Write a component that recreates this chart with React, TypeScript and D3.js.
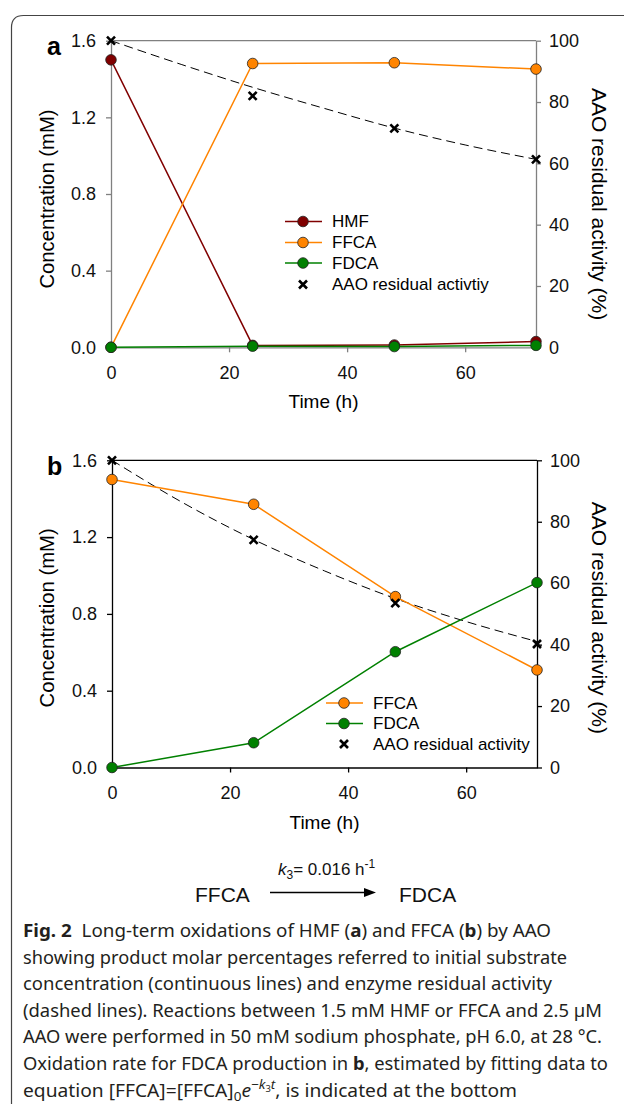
import { useEffect, useRef } from "react";
import * as d3 from "d3";

const times = [0, 24, 48, 72];

// panel a: HMF oxidation
const hmfA = [1.5, 0.01, 0.012, 0.03];
const ffcaA = [0, 1.481, 1.485, 1.452];
const fdcaA = [0, 0.006, 0.004, 0.01];
const aaoA = [100, 82.0, 71.4, 61.3];
const fitTimes = [0, 12, 24, 36, 48, 60, 72];
const fitA = [100, 92.2, 84.8, 78.0, 71.5, 66.0, 61.3];

// panel b: FFCA oxidation
const ffcaB = [1.5, 1.371, 0.89, 0.508];
const fdcaB = [0, 0.129, 0.603, 0.963];
const aaoB = [100, 74.1, 53.5, 40.2];
const fitB = [100, 86.2, 74.2, 64.0, 55.0, 47.5, 41.0];

const xTicks = [0, 20, 40, 60];
const concTicks = [0, 0.4, 0.8, 1.2, 1.6];
const actTicks = [0, 20, 40, 60, 80, 100];

const legendA = ["HMF", "FFCA", "FDCA", "AAO residual activtiy"];
const legendB = ["FFCA", "FDCA", "AAO residual activity"];

const HMF = "#800000";
const ORANGE = "#ff8400";
const GREEN = "#008000";
const FONT = "'Liberation Sans', Arial, sans-serif";

const captionLines = [
  [["Fig. 2", true], ["  Long-term oxidations of HMF (", false], ["a", true], [") and FFCA (", false], ["b", true], [") by AAO", false]],
  [["showing product molar percentages referred to initial substrate", false]],
  [["concentration (continuous lines) and enzyme residual activity", false]],
  [["(dashed lines). Reactions between 1.5 mM HMF or FFCA and 2.5 \u00b5M", false]],
  [["AAO were performed in 50 mM sodium phosphate, pH 6.0, at 28 \u00b0C.", false]],
  [["Oxidation rate for FDCA production in ", false], ["b", true], [", estimated by fitting data to", false]],
];
const captionEnds = [551, 567, 552, 602, 602, 608, 517];

type S = { name: string; color: string; values: number[] };

const cross = "M-4,-4L4,4M-4,4L4,-4";

function Panel(props: {
  x0: number; x1: number; top: number; bottom: number; letter: string;
  series: S[]; aao: number[]; fit: number[]; axisColor: string;
  legend: string[]; legX: number; legY: number[]; leftShift: number; rightShift: number;
}) {
  const { x0, x1, top, bottom, letter, series, aao, fit, axisColor, legend, legX, legY, leftShift, rightShift } = props;
  const gx = useRef<SVGGElement>(null);
  const gy = useRef<SVGGElement>(null);
  const gy2 = useRef<SVGGElement>(null);

  const x = d3.scaleLinear().domain([0, 72]).range([x0, x1]);
  const y = d3.scaleLinear().domain([0, 1.6]).range([bottom, top]);
  const y2 = d3.scaleLinear().domain([0, 100]).range([bottom, top]);

  const line = d3.line<number>().x((d, i) => x(times[i])).y((d) => y(d));
  const fitLine = d3.line<number>().x((d, i) => x(fitTimes[i])).y((d) => y2(d)).curve(d3.curveMonotoneX);

  useEffect(() => {
    const style = (g: any) => {
      g.attr("font-family", FONT).attr("font-size", 18);
      g.selectAll("path, line").attr("stroke", axisColor).attr("stroke-width", 1.3);
      g.selectAll("text").attr("fill", "#111");
    };
    d3.select(gx.current).call(d3.axisBottom(x).tickValues(xTicks).tickSize(5).tickPadding(14).tickSizeOuter(0) as any).call(style);
    d3.select(gy.current).call(d3.axisLeft(y).tickValues(concTicks).tickFormat(d3.format(".1f") as any).tickSize(5).tickPadding(10).tickSizeOuter(0) as any).call(style);
    d3.select(gy2.current).call(d3.axisRight(y2).tickValues(actTicks).tickSize(5).tickPadding(8).tickSizeOuter(0) as any).call(style);
  }, []);

  const midY = (top + bottom) / 2;
  const legendColors = series.map((s) => s.color);

  return (
    <g>
      <text x={47} y={top + 14.5} fontFamily={FONT} fontWeight="bold" fontSize={25}>{letter}</text>
      <line x1={x0} x2={x1} y1={top} y2={top} stroke={axisColor} strokeWidth={1.3} />
      <g ref={gx} transform={`translate(0,${bottom})`} />
      <g ref={gy} transform={`translate(${x0},0)`} />
      <g ref={gy2} transform={`translate(${x1},0)`} />
      <text transform={`translate(47,${midY + leftShift}) rotate(-90)`} textAnchor="middle" dominantBaseline="central" fontFamily={FONT} fontSize={20.3}>Concentration (mM)</text>
      <text transform={`translate(599,${midY + rightShift}) rotate(90)`} textAnchor="middle" dominantBaseline="central" fontFamily={FONT} fontSize={21}>AAO residual activity (%)</text>
      <text x={(x0 + x1) / 2} y={bottom + 61} textAnchor="middle" fontFamily={FONT} fontSize={19}>Time (h)</text>

      <path d={fitLine(fit) || ""} fill="none" stroke="#000" strokeWidth={1} strokeDasharray="9,5" />
      {series.map((s) => (
        <path key={s.name} d={line(s.values) || ""} fill="none" stroke={s.color} strokeWidth={1.5} />
      ))}
      {series.map((s) => (
        <g key={s.name + "m"}>
          {s.values.map((v, i) => (
            <circle key={i} cx={x(times[i])} cy={y(v)} r={5.3} fill={s.color} stroke="#222" strokeWidth={0.8} />
          ))}
        </g>
      ))}
      {aao.map((v, i) => (
        <path key={i} d={cross} transform={`translate(${x(times[i])},${y2(v)})`} stroke="#000" strokeWidth={2.6} fill="none" />
      ))}

      <g fontFamily={FONT} fontSize={17}>
        {legend.map((name, i) => (
          <g key={name} transform={`translate(${legX},${legY[i]})`}>
            {i < legendColors.length ? (
              <>
                <line x1={-18} x2={19} stroke={legendColors[i]} strokeWidth={1.5} />
                <circle r={5.3} fill={legendColors[i]} stroke="#222" strokeWidth={0.8} />
              </>
            ) : (
              <path d={cross} stroke="#000" strokeWidth={2.6} fill="none" />
            )}
            <text x={29} dominantBaseline="central">{name}</text>
          </g>
        ))}
      </g>
    </g>
  );
}

export default function App() {
  const seriesA: S[] = [
    { name: "HMF", color: HMF, values: hmfA },
    { name: "FFCA", color: ORANGE, values: ffcaA },
    { name: "FDCA", color: GREEN, values: fdcaA },
  ];
  const seriesB: S[] = [
    { name: "FFCA", color: ORANGE, values: ffcaB },
    { name: "FDCA", color: GREEN, values: fdcaB },
  ];
  const capFont = "'Noto Sans', 'Open Sans', sans-serif";
  const capY0 = 937;
  const capStep = 26.6;

  return (
    <div style={{ position: "absolute", left: 0, top: 0 }}>
      <svg width={624} height={1104} style={{ display: "block" }}>
        <rect width={624} height={1104} fill="#fff" />
        <path d="M11.5,1104V27.5Q11.5,15.5 23.5,15.5H624" fill="none" stroke="#444" strokeWidth={1.2} />

        <Panel x0={111} x1={536} top={40.7} bottom={347.3} letter="a" series={seriesA} aao={aaoA} fit={fitA}
          axisColor="#808080" legend={legendA} legX={303} legY={[221.5, 242.5, 263, 284.5]} leftShift={5} rightShift={10} />
        <Panel x0={112} x1={537} top={460.3} bottom={767.5} letter="b" series={seriesB} aao={aaoB} fit={fitB}
          axisColor="#000" legend={legendB} legX={344} legY={[703, 723.5, 744]} leftShift={4} rightShift={4} />

        <g fontFamily={FONT} fill="#111">
          <text x={278} y={875} fontSize={17}>
            <tspan fontStyle="italic">k</tspan>
            <tspan fontSize={12} dy={4}>3</tspan>
            <tspan dy={-4}>= 0.016 h</tspan>
            <tspan fontSize={12} dy={-7}>-1</tspan>
          </text>
          <text x={195} y={901.5} fontSize={21}>FFCA</text>
          <text x={399} y={901.5} fontSize={21}>FDCA</text>
          <line x1={270} x2={366} y1={892.5} y2={892.5} stroke="#000" strokeWidth={1.3} />
          <path d="M376,892.5L364,888L364,897Z" fill="#000" />
        </g>

        <g fontFamily={capFont} fontSize={18.5} fill="#231f20">
          {captionLines.map((segs, i) => (
            <text key={i} x={23} y={capY0 + i * capStep} textLength={captionEnds[i] - 23} lengthAdjust="spacingAndGlyphs">
              {segs.map(([t, b], j) => (
                <tspan key={j} fontWeight={b ? "bold" : "normal"} xmlSpace="preserve">{t as string}</tspan>
              ))}
            </text>
          ))}
          <text x={23} y={capY0 + 6 * capStep} textLength={captionEnds[6] - 23} lengthAdjust="spacingAndGlyphs">
            <tspan>equation [FFCA]=[FFCA]</tspan>
            <tspan fontSize={13} dy={4}>0</tspan>
            <tspan fontStyle="italic" dy={-4}>e</tspan>
            <tspan fontSize={13} dy={-8}>{"\u2212"}</tspan>
            <tspan fontSize={13} fontStyle="italic">k</tspan>
            <tspan fontSize={9} dy={3}>3</tspan>
            <tspan fontSize={13} fontStyle="italic" dy={-3}>t</tspan>
            <tspan dy={8}>, is indicated at the bottom</tspan>
          </text>
        </g>
      </svg>
    </div>
  );
}
